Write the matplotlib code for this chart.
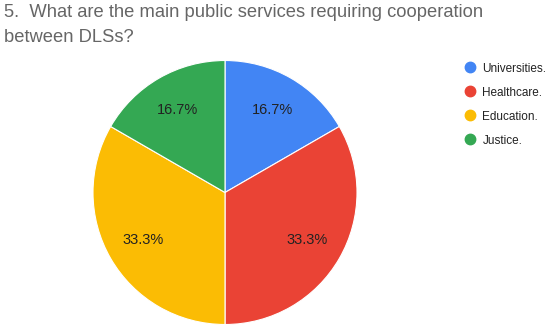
import matplotlib.pyplot as plt
from matplotlib.lines import Line2D

plt.rcParams['font.family'] = ['Liberation Sans', 'DejaVu Sans']

# survey answers
labels = ['Universities.', 'Healthcare.', 'Education.', 'Justice.']
counts = [1, 2, 2, 1]
colors = ['#4285F4', '#EA4335', '#FBBC04', '#34A853']

W, H = 550, 329
fig = plt.figure(figsize=(W / 100, H / 100), dpi=100)

# pie placed by pixel centre / radius
cx, cy, r = 225, 192.5, 132
ax = fig.add_axes([(cx - r) / W, (H - cy - r) / H, 2 * r / W, 2 * r / H])
wedges, texts, autotexts = ax.pie(
    counts, colors=colors, startangle=90, counterclock=False,
    autopct='%1.1f%%', pctdistance=0.72, radius=1,
    wedgeprops=dict(edgecolor='white', linewidth=0.8),
    textprops=dict(color='#222222', fontsize=10.5))
ax.set_xlim(-1, 1)
ax.set_ylim(-1, 1)
ax.set_aspect('equal')
ax.axis('off')

fig.text(4 / W, 1 - 4 / H,
         '5.  What are the main public services requiring cooperation\nbetween DLSs?',
         ha='left', va='top', fontsize=13.2, color='#666666', linespacing=1.6)

handles = [Line2D([0], [0], marker='o', linestyle='', markersize=7.5,
                  markerfacecolor=c, markeredgecolor=c) for c in colors]
fig.legend(handles, labels, loc='upper left', bbox_to_anchor=(463 / W, 1 - 62.5 / H),
           frameon=False, fontsize=8.5, labelcolor='#222222',
           handletextpad=0.45, labelspacing=1.02, handlelength=1.2,
           borderaxespad=0, borderpad=0)

fig.savefig('out.png', dpi=100, facecolor='white')
